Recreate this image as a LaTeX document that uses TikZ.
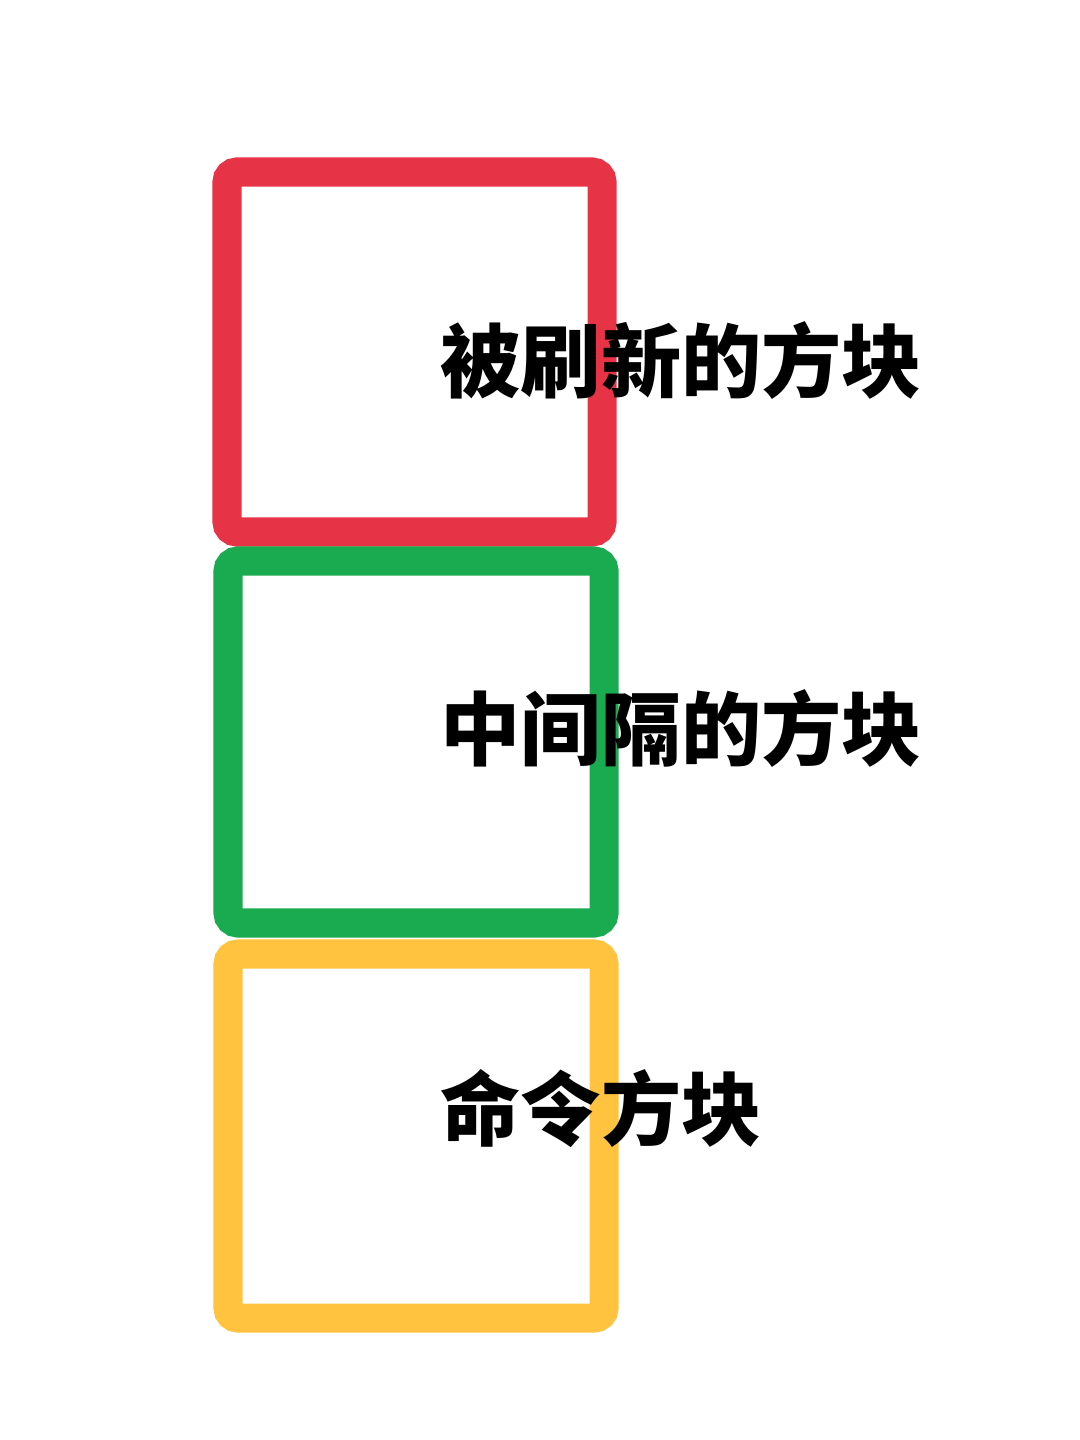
\documentclass[tikz,border=0pt]{standalone}
\usepackage{fontspec}
\newfontfamily\cjk{Noto Sans CJK SC}
\definecolor{blockred}{HTML}{E63446}
\definecolor{blockgreen}{HTML}{1AAA50}
\definecolor{blockyellow}{HTML}{FFC33F}
\begin{document}
\begin{tikzpicture}[x=0.01cm, y=-0.01cm,
    block/.style={draw, line width=0.29cm, rounded corners=0.1cm},
    label/.style={anchor=west, inner sep=0pt, font=\cjk\bfseries\fontsize{22.8}{24}\selectfont}]
            \useasboundingbox (0, 0) rectangle (1080, 1440);
            \draw[block, blockred] (227, 172) rectangle (602, 532);
            \draw[block, blockgreen] (228, 561) rectangle (604, 923);
            \draw[block, blockyellow] (228, 954) rectangle (604, 1318);
            \node[label] (refreshed) at (440, 361) {被刷新的方块};
            \node[label] (between) at (440, 729) {中间隔的方块};
            \node[label] (command) at (440, 1109) {命令方块};
        \end{tikzpicture}
\end{document}
